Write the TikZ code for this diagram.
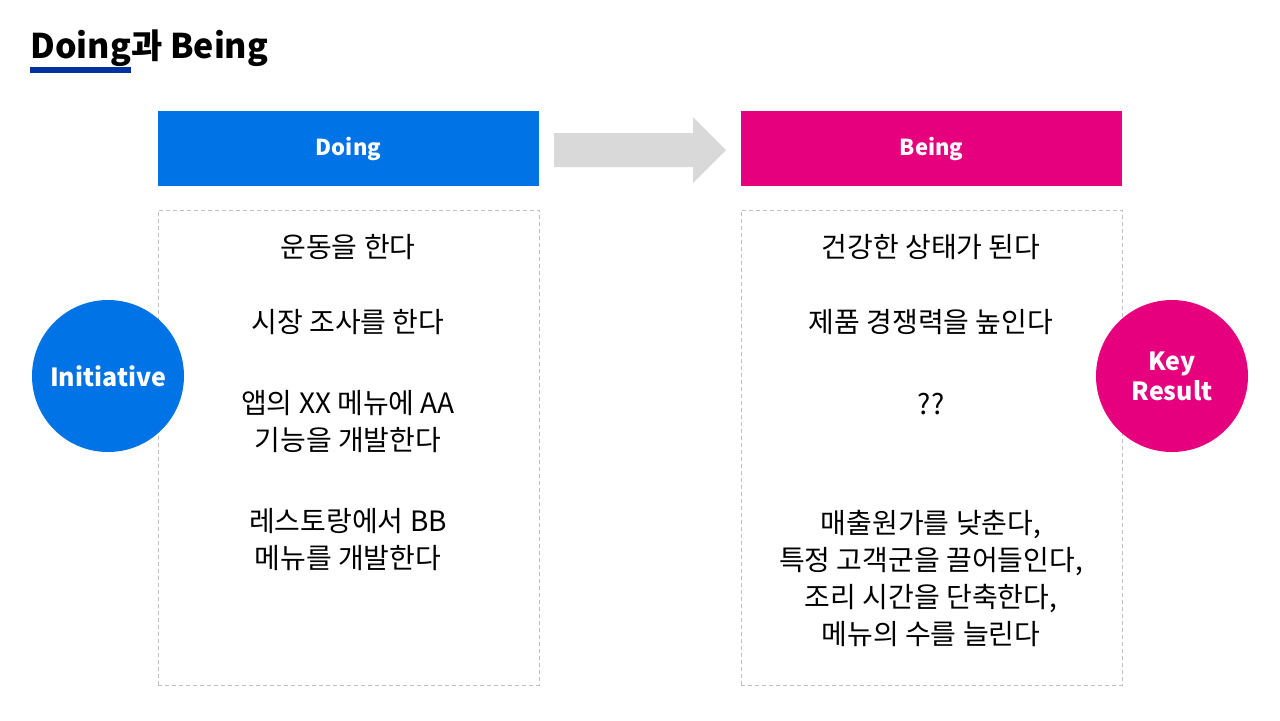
\documentclass[tikz,border=0pt]{standalone}
\usepackage{fontspec}
\setmainfont{Noto Sans CJK KR}
\usetikzlibrary{positioning}
\definecolor{doingblue}{HTML}{0073E6}
\definecolor{beingpink}{HTML}{E6007E}
\definecolor{navybar}{HTML}{0033A0}
\definecolor{arrowgray}{HTML}{D9D9D9}
\definecolor{dashgray}{HTML}{BFBFBF}
\begin{document}
\begin{tikzpicture}[x=0.5pt, y=-0.5pt,
  header/.style={draw=none, minimum width=190.5pt, minimum height=37.5pt, text=white, font=\fontsize{11}{13}\selectfont\bfseries},
  panel/.style={draw=dashgray, dash pattern=on 2pt off 1.5pt, line width=0.4pt, minimum width=190.5pt, minimum height=237.5pt},
  goal/.style={circle, minimum size=76pt, inner sep=0pt, text=white, align=center, font=\fontsize{12.5}{15}\selectfont\bfseries},
  item/.style={align=center, font=\fontsize{14}{18.5}\selectfont}]
  \useasboundingbox (0,0) rectangle (1280,720);
  % title
  \node[anchor=base west, inner sep=0pt, font=\fontsize{17}{20}\selectfont\bfseries] (title) at (30,58) {Doing과 Being};
  \fill[navybar] (30,67) rectangle (131,73);
  % headers
  \node[header, fill=doingblue] (doing) at (348.5,148.5) {Doing};
  \node[header, fill=beingpink] (being) at (931.5,148.5) {Being};
  \fill[arrowgray] (554,133) -- (693,133) -- (693,117) -- (726,150) -- (693,183) -- (693,167) -- (554,167) -- cycle;
  % panels
  \node[panel] (left) at (348.5,447.5) {};
  \node[panel] (right) at (931.5,447.5) {};
  % left items
  \node[item] (d1) at (348,247) {운동을 한다};
  \node[item] (d2) at (348,322) {시장 조사를 한다};
  \node[item] (d3) at (348,422) {앱의 XX 메뉴에 AA\\기능을 개발한다};
  \node[item] (d4) at (348,540) {레스토랑에서 BB\\메뉴를 개발한다};
  % right items
  \node[item] (b1) at (931,247) {건강한 상태가 된다};
  \node[item] (b2) at (931,322) {제품 경쟁력을 높인다};
  \node[item] (b3) at (931,404) {??};
  \node[item] (b4) at (931,578) {매출원가를 낮춘다,\\특정 고객군을 끌어들인다,\\조리 시간을 단축한다,\\메뉴의 수를 늘린다};
  % circles
  \node[goal, fill=doingblue] (init) at (108,376) {Initiative};
  \node[goal, fill=beingpink] (kr) at (1172,376) {Key\\Result};
\end{tikzpicture}
\end{document}
